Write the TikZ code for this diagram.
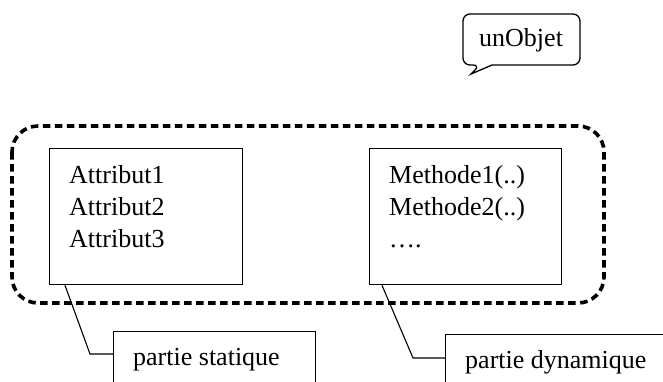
\documentclass[tikz,border=0pt]{standalone}
\usepackage{fontspec}
\setmainfont{Liberation Serif}
\usetikzlibrary{calc}
\tikzset{
  box/.style={draw, line width=1.3pt, rectangle, inner sep=0pt, anchor=north west},
  conn/.style={draw, line width=1.1pt},
  txt/.style={inner sep=0pt, anchor=base west, font=\fontsize{26}{31}\selectfont},
  grp/.style={draw, line width=3.6pt, dash pattern=on 7.5pt off 4.5pt, rounded corners=26pt},
}
\begin{document}
\begin{tikzpicture}[x=1pt,y=-1pt]
\useasboundingbox (0,0) rectangle (663,381);
\clip (0,0) rectangle (663,381);
% callout unObjet
\draw[line width=1.3pt] (471,74) -- (492,65) [rounded corners=7pt] -- (580,65) -- (580,14) -- (463,14) -- (463,65) -- (480,65) [sharp corners] -- cycle;
\node[txt] (obj) at (479,46) {unObjet};
% dashed group
\draw[grp] (12,126) rectangle (604,303);
% attribute box
\node[box, minimum width=193pt, minimum height=136pt] (attr) at (49,148) {};
\node[txt] (a1) at (69,183) {Attribut1};
\node[txt] (a2) at (69,215) {Attribut2};
\node[txt] (a3) at (69,247) {Attribut3};
% method box
\node[box, minimum width=192pt, minimum height=136pt] (meth) at (369,148) {};
\node[txt] (m1) at (389,183) {Methode1(..)};
\node[txt] (m2) at (389,215) {Methode2(..)};
\node[txt] (m3) at (389,247) {….};
% label boxes
\node[box, minimum width=202pt, minimum height=80pt] (ps) at (113,331) {};
\node[txt] (pst) at (133,365) {partie statique};
\node[box, minimum width=230pt, minimum height=80pt] (pd) at (445,334) {};
\node[txt] (pdt) at (465,368) {partie dynamique};
% connectors
\coordinate (k1) at (90,354);
\coordinate (k2) at (413,358);
\draw[conn] ($(attr.south west)+(16,0)$) -- (k1) -- (k1 -| ps.west);
\draw[conn] ($(meth.south west)+(13,0)$) -- (k2) -- (k2 -| pd.west);
\end{tikzpicture}
\end{document}
